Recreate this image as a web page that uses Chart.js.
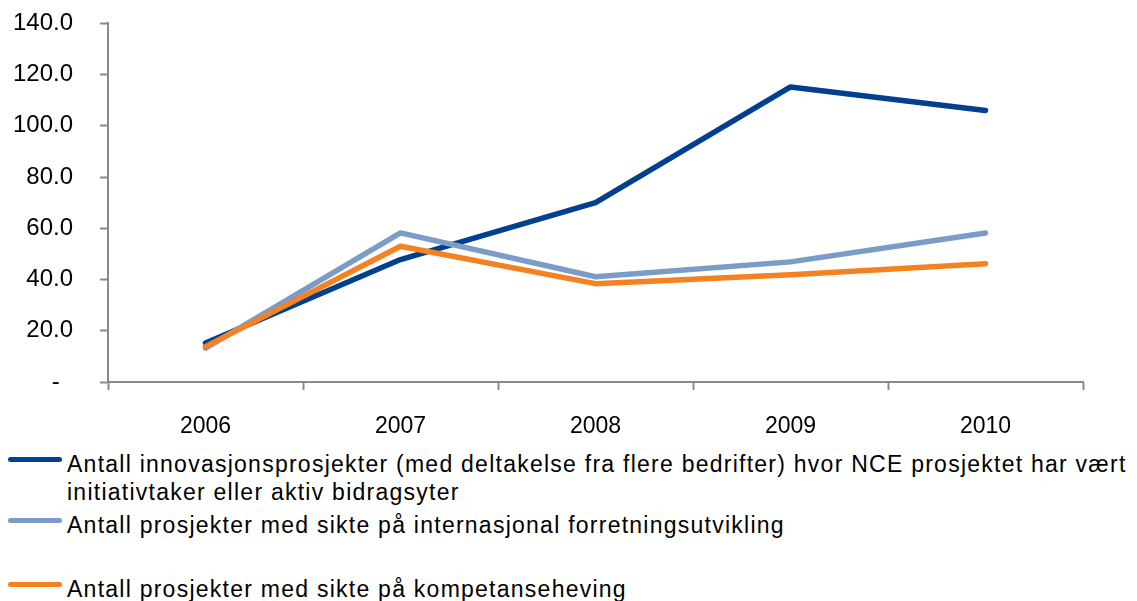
<!DOCTYPE html>
<html>
<head>
<meta charset="utf-8">
<script src="https://cdn.jsdelivr.net/npm/chart.js@4.4.1/dist/chart.umd.min.js"></script>
<style>
    html, body {
        margin: 0;
        padding: 0;
        background: #ffffff;
        width: 1137px;
        height: 601px;
        overflow: hidden;
        font-family: "Liberation Sans", Arial, sans-serif;
    }
    #chartBox {
        position: absolute;
        left: 0;
        top: -18px;
        width: 1137px;
        height: 458px;
    }
    .legend-item {
        position: absolute;
        left: 0;
        white-space: nowrap;
    }
    .legend-line {
        position: absolute;
        left: 8px;
        width: 54px;
        height: 5px;
        border-radius: 3px;
    }
    .legend-text {
        position: absolute;
        left: 67px;
        top: 0;
        font-size: 23px;
        line-height: 28.5px;
        letter-spacing: 1.25px;
        color: #000000;
    }
</style>
</head>
<body>
<div id="chartBox"><canvas id="chart"></canvas></div>
<div id="legend"></div>

<script>
// ========================================
// DATA
// ========================================
const years = ['2006', '2007', '2008', '2009', '2010'];

const innovasjon = [15.2, 47.8, 70.0, 115.2, 106.0];
const internasjonal = [13.2, 58.2, 41.1, 46.9, 58.2];
const kompetanse = [13.8, 53.0, 38.4, 41.9, 46.2];

const seriesLabels = [
    ['Antall innovasjonsprosjekter (med deltakelse fra flere bedrifter) hvor NCE prosjektet har vært',
     'initiativtaker eller aktiv bidragsyter'],
    ['Antall prosjekter med sikte på internasjonal forretningsutvikling'],
    ['Antall prosjekter med sikte på kompetanseheving']
];

const yTicks = [0, 20, 40, 60, 80, 100, 120, 140];
const yTickLabels = ['-  ', '20.0', '40.0', '60.0', '80.0', '100.0', '120.0', '140.0'];

// ========================================
// STYLE
// ========================================
const COLORS = ['#00408f', '#7b9cc7', '#f58220'];
const AXIS_COLOR = '#8a8a8a';
const FONT_FAMILY = '"Liberation Sans", Arial, sans-serif';

// legend rows (top of each text block)
const LEGEND_TOP = [449.5, 510.5, 574.5];

function lineDataset(label, data, color, order) {
    return {
        label: label.join(' '),
        data: data,
        borderColor: color,
        backgroundColor: color,
        borderWidth: 5.5,
        borderCapStyle: 'round',
        borderJoinStyle: 'round',
        pointRadius: 0,
        pointHoverRadius: 0,
        tension: 0,
        fill: false,
        order: order
    };
}

const chart = new Chart(document.getElementById('chart'), {
    type: 'line',
    data: {
        labels: years,
        datasets: [
            lineDataset(seriesLabels[0], innovasjon, COLORS[0], 2),
            lineDataset(seriesLabels[1], internasjonal, COLORS[1], 1),
            lineDataset(seriesLabels[2], kompetanse, COLORS[2], 0)
        ]
    },
    options: {
        responsive: true,
        maintainAspectRatio: false,
        animation: false,
        events: [],
        layout: {
            padding: { top: 4, right: 54, left: 0, bottom: 0 }
        },
        plugins: {
            legend: { display: false },
            tooltip: { enabled: false }
        },
        scales: {
            x: {
                offset: true,
                grid: {
                    offset: true,
                    drawOnChartArea: false,
                    drawTicks: true,
                    tickLength: 8,
                    tickColor: AXIS_COLOR,
                    tickWidth: 2
                },
                border: { color: AXIS_COLOR, width: 2 },
                ticks: {
                    color: '#000000',
                    font: { family: FONT_FAMILY, size: 23 },
                    padding: 23,
                    maxRotation: 0
                },
                afterFit: function(scale) {
                    scale.height = 58;
                }
            },
            y: {
                min: 0,
                max: 140,
                afterBuildTicks: function(scale) {
                    scale.ticks = yTicks.map(v => ({ value: v }));
                },
                grid: {
                    drawOnChartArea: false,
                    drawTicks: true,
                    tickLength: 8,
                    tickColor: AXIS_COLOR,
                    tickWidth: 2
                },
                border: { color: AXIS_COLOR, width: 2 },
                ticks: {
                    color: '#000000',
                    font: { family: FONT_FAMILY, size: 24 },
                    padding: 27,
                    callback: function(value) {
                        return yTickLabels[yTicks.indexOf(value)];
                    }
                },
                afterFit: function(scale) {
                    scale.width = 108;
                }
            }
        }
    }
});

// ========================================
// LEGEND (HTML)
// ========================================
function buildLegend() {
    const container = document.getElementById('legend');
    container.innerHTML = seriesLabels.map((lines, i) => `
        <div class="legend-item" style="top:${LEGEND_TOP[i]}px">
            <div class="legend-line" style="top:7.5px;background:${COLORS[i]}"></div>
            <div class="legend-text">${lines.join('<br>')}</div>
        </div>
    `).join('');
}

buildLegend();
</script>
</body>
</html>
